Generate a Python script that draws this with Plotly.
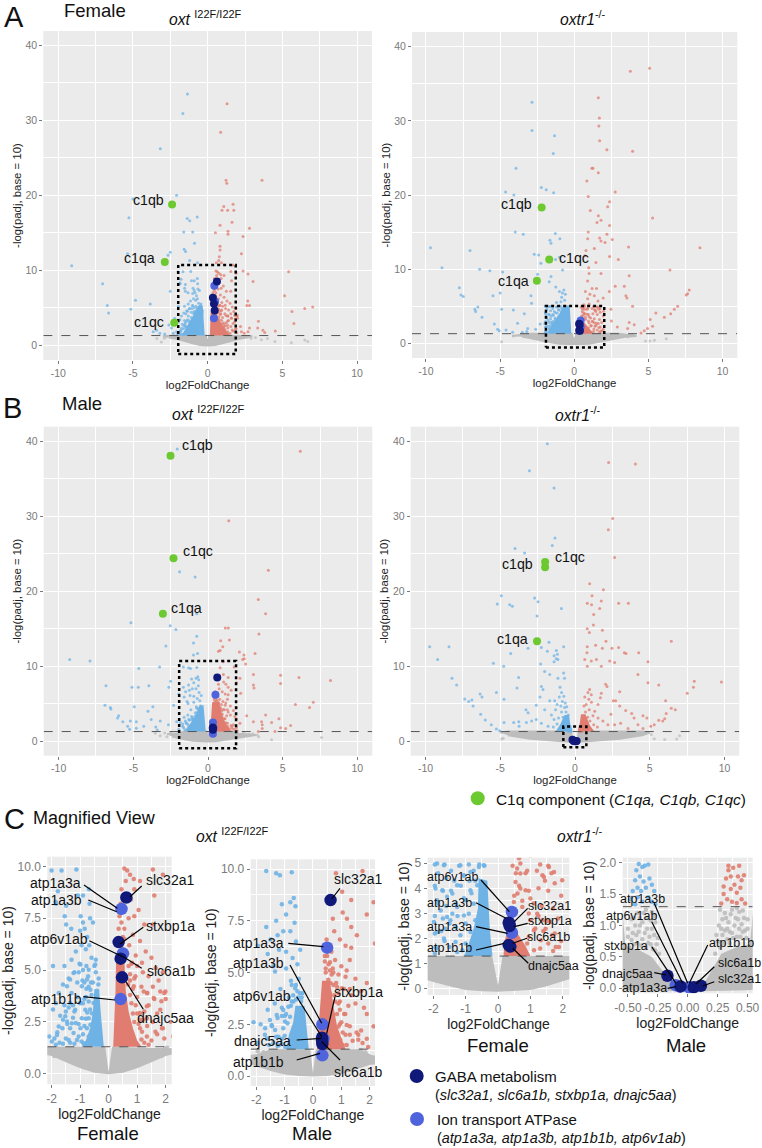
import plotly.graph_objects as go

W, H = 762, 1148
FONT = "Liberation Sans"

# ---------- read-off values: (log2FoldChange, -log10 padj) ----------
F_OXT_BLUE = [(-1.35,33.5),(-1.66,30.9),(-3.17,26.2),(-2.08,20),(-5.0,19.5),(-5.27,17),(-1.37,16.9),(-1.2,16.6),(-.7,17.1),(-1.6,15.1),(-1,15.1),(-.88,13.6),(-1.57,12.8),(-1.48,12.5),(-2.5,12.4),(-2.65,12),(-5.36,12.2),(-9.1,10.6),(-7.03,8.2),(-6.72,5.3),(-6.63,4.3),(-4.83,6),(-5.14,4.8),(-3.84,5.5),(-2.5,7.2),(-1.2,11.3),(-.68,11),(-1.86,8.3),(-3.64,1.8),(-3.42,2),(-3.2,1.6),(-2.87,1.5),(-2.42,2.3),(-2.3,1.6),(-2.08,1.8),(-2.6,2.7),(-2.2,3.6),(-1.65,9.8),(-1.13,9.85),(-2.0,9.8),(-.69,8.9),(-1.78,8.8),(-1.08,8.6),(-.9,8.6),(-1.84,8.2),(-1.49,8.1),(-.67,8.2),(-.98,7.6),(-1.54,7.6),(-.9,7.3),(-.84,7),(-1.49,7.2),(-1.31,7),(-1.0,6.9),(-.65,7.5),(-.55,7.3),(-.75,6.6),(-.68,6.2),(-.8,6.0),(-.95,6.2),(-1.15,5.9),(-1.3,5.5),(-1.55,5.2),(-1.95,5.2),(-.6,5.6),(-.5,5.2),(-.45,5.5),(-.78,5.2),(-.9,5.0),(-1.02,5.3),(-1.2,4.9),(-1.4,4.6),(-1.6,4.3),(-1.75,3.9),(-1.85,3.4),(-1.95,3.1),(-1.55,3.3),(-1.3,3.9),(-1.1,4.4),(-.92,4.5),(-.72,4.7),(-1.45,2.4),(-1.62,2.2),(-1.8,2.0),(-1.9,1.7),(-1.72,1.5),(-1.2,3.0),(-1.0,3.4),(-.78,4.1),(-.62,4.4),(-.36,4.3),(-.4,4.0),(-1.4,3.2),(-.85,3.6),(-1.7,2.8),
 (-1.99,1.55),(-1.75,2.28),(-1.81,1.87),(-1.46,2.52),(-1.52,2.77),(-1.35,2.2),(-1.4,1.63),(-1.23,1.96),(-1.29,2.44),(-1.11,1.63),(-.99,2.2),(-.94,2.68),(-1.17,3.09),(-.99,3.41),(-1.35,3.41),(-1.46,4.22),(-1.35,4.54),(-1.23,4.86),(-.99,5.27),(-.7,5.02),(-.47,5.27),(-.76,4.54),(-.94,4.22),(-.64,4.05),(-.7,3.49),(-.82,3.09),(-.7,2.68),(-.76,2.2),(-.7,1.8),(-.88,1.47),(-.59,2.92),(-.64,2.36),(-.53,3.41),(-.41,3.73),(-1.2,1.45),(-1.05,1.8),(-.95,1.55),(-.85,2.3),(-.9,1.9),(-1.05,2.4),(-1.25,2.7),(-1.15,2.45),(-.8,2.65),(-.75,2.95),(-.9,3.4),(-.8,3.7),(-1.1,3.7),(-1.25,3.3),(-1.5,3.0),(-1.6,2.6),(-1.35,1.5),(-1.5,1.7),(-1.6,1.45),(-1.85,1.4),(-.65,3.1),(-.6,3.8),(-.7,4.2),(-.55,4.4),(-.45,4.9),(-.35,4.6),(-.85,4.4),(-1.05,4.9)]
F_OXT_RED = [(1.3,32.2),(.87,28.4),(1.23,22),(1.28,21.6),(3.64,22),(1.7,18.8),(1.08,18.5),(.96,18),(1.34,18),(1.75,18),(1.63,16.4),(.83,16),(2.8,15.6),(1.36,15.2),(.52,15),(1.36,14.8),(2.37,14.5),(.83,13.2),(.83,12.7),(2.26,12.2),(.78,11.8),(.74,11.3),(.58,11),(.92,11),(1.7,10.7),(5.42,9.8),(3.04,8.5),(2.37,9.9),(2.7,9.5),(5.15,6.6),(5.64,4.5),(6.5,4.9),(7.03,5.1),(5.77,2.9),(2.68,5.9),(2.8,5.3),(2.62,5.3),(3.4,3.2),(3.35,2.3),(3.7,2),(3.82,1.7),(4.53,1.9),(2.8,2.3),(2.7,1.8),(2.26,1.8),(2.0,3.6),(.55,9.9),(.65,9.8),(.75,9.6),(.88,9.4),(1.55,9.85),(1.1,9.3),(1.9,9.6),(1.6,8.6),(.9,8.9),(.78,8.4),(.6,9.3),(.45,8.9),(.7,7.5),(.9,7.6),(1.05,7.9),(1.25,7.2),(1.55,7.2),(.55,7.0),(.45,7.3),(.5,6.6),(.85,6.7),(1.1,6.4),(1.3,5.9),(.72,6.2),(.95,5.7),(.65,5.8),(1.5,5.6),(1.65,5.1),(1.9,4.9),(1.75,4.5),(.8,5.3),(1.0,5.2),(1.2,4.9),(1.4,4.7),(1.55,4.2),(1.95,3.9),(1.85,3.5),(1.6,3.6),(1.35,3.9),(1.15,4.2),(.9,4.6),(.75,4.5),(1.4,3.3),(1.7,2.9),(1.25,3.0),(1.55,2.5),(1.9,2.2),(1.1,2.6),(1.35,2.3),(1.7,1.9),(1.95,1.7),(2.2,2.5),(2.45,1.6),(1.5,1.6),
 (1.23,3.97),(1.35,3.9),(1.81,3.97),(1.99,3.97),(1.58,3.65),(1.81,3.09),(1.34,3.25),(1.1,2.93),(1.34,2.68),(1.17,2.03),(1.34,1.8),(1.87,2.2),(1.64,2.03),(.82,5.35),(1.17,5.35),(.94,4.7),(.88,4.22),(.62,4.6),(.68,4.3),(.75,3.8),(.8,3.4),(.85,2.9),(.9,2.5),(1.0,2.9),(1.05,2.4),(1.15,1.65),(1.25,1.5),(1.4,1.4),(.95,3.3),(.7,5.2),(.6,5.7),(.5,6.0),(.42,6.2),(.4,5.7),(.55,6.5),(.38,7.6),(.42,8.2),(.35,7.0),(.75,4.8),(.85,4.1),(1.0,3.7),(1.1,2.2),(1.2,2.6)]
F_OXT_GREY = [(-3.1,.45),(-3.4,.9),(-2.9,.95),(3.2,1.05),(3.6,.75),(4.0,.9),(4.5,.5),(5.6,.35),(6.5,.7),(6.7,.5),(2.9,.95),(-2.75,1.15),(2.6,1.15),(-1.98,1.0),(-1.9,.85),(-1.8,1.2),(1.95,1.0),(1.85,.85),(1.98,1.2),(-2.05,1.2),(2.05,1.25)]
F_OXT_BLUE_FILL = [(-.17,1.3),(-.22,2),(-.28,3),(-.33,4),(-.5,4.1),(-.55,3),(-.65,2.2),(-.8,1.6),(-.95,1.3)]
F_OXT_RED_FILL = [(.16,1.3),(.2,2.5),(.24,4),(.26,5.5),(.55,5.5),(.6,4),(.7,3),(.85,2.2),(1.0,1.6),(1.15,1.3)]
F_OXT_BLUE_WIDE = [(-.2,1.3),(-.33,5.3),(-.6,5.3),(-.95,4),(-1.3,2.8),(-1.75,1.3)]
F_OXT_RED_WIDE = [(.15,1.3),(.2,4.5),(.55,4.5),(.8,3.3),(1.2,2),(1.5,1.3)]
F_OXT_GREY_FILL = [(-3,1.2),(-2.2,1.3),(-.12,1.3),(0,.1),(.12,1.3),(2.2,1.3),(3,1.2),(2.6,1.05),(2,.85),(1.5,.55),(1,.26),(.5,.05),(0,-.02),(-.5,.05),(-1,.26),(-1.5,.55),(-2,.85),(-2.6,1.05)]

M_OXT_BLUE = [(-2.06,39),(-1.9,22.6),(-.86,21.9),(-.75,17),(-5.16,15.8),(-2.53,15.4),(-2.15,14.9),(-.75,14),(-2.82,12.7),(-.97,13.1),(-.7,11.7),(-.97,11.5),(-9.26,10.9),(-7.9,10.7),(-3.24,9.9),(-4.63,9.7),(-6.83,7.4),(-5.09,7.2),(-4.67,7.2),(-3.96,7.4),(-2.5,8),(-2.62,7.2),(-6.9,4.8),(-6.54,4.5),(-6.5,4.3),(-4.94,4.6),(-3.69,4.6),(-4.02,4),(-5.98,3.4),(-6.05,3.1),(-5.7,2.6),(-5.2,2.7),(-4.8,2.6),(-5.38,2),(-5.25,1.6),(-4.8,1.75),(-4.3,2),(-3.8,2.9),(-3.2,2.7),(-3.5,1.9),(-3.4,1.5),(-2.65,2.2),(-2.1,2.6),(-2.3,4.8),(-1.65,9.9),(-1.3,9.8),(-.75,9.85),(-1.17,9.7),(-.68,8.6),(-.8,8.4),(-.62,8.2),(-1.1,8.3),(-.95,7.8),(-1.3,7.5),(-1.65,7.2),(-.65,7.4),(-.8,7),(-1.05,7.0),(-1.25,6.8),(-.6,6.5),(-.45,6.1),(-1.5,6.6),(-1.95,6.3),(-1.6,5.9),(-1.2,6.1),(-.95,6),(-.72,5.7),(-.55,5.4),(-1.4,5.3),(-.95,5.2),(-.78,4.6),(-.6,4.4),(-.5,4.7),(-.38,4),(-.42,3.6),(-1.15,4.2),(-1.35,3.5),(-1.6,3.2),(-1.85,2.5),(-1.7,2),(-1.45,2.4),(-1.25,2.8),(-1.1,3.3),(-.85,3.8),(-.7,3.9),(-.52,3.8),(-1.95,1.6),(-1.55,1.5),(-1.3,1.9),(-1.0,2.9),(-.78,3.4),(-1.1,1.8),(-1.2,1.5),
 (-1.34,5.05),(-.75,4.4),(-.63,4.24),(-.46,4.0),(-.69,3.6),(-.87,3.35),(-1.05,3.19),(-1.28,2.95),(-1.52,2.71),(-1.46,2.47),(-1.69,2.31),(-1.34,2.23),(-1.05,2.31),(-1.22,1.9),(-1.63,1.82),(-.99,2.63),(-.81,2.87),(-1.1,2.9),(-.95,3.0),(-.9,2.55),(-1.0,1.95),(-1.1,1.55),(-.98,1.4),(-1.25,1.45),(-1.4,1.6),(-.75,3.6),(-.6,3.7),(-.55,4.1),(-.4,3.8)]
M_OXT_RED = [(6.18,38.7),(1.39,29.4),(4.04,22.8),(3.37,18.9),(3.86,17),(3.41,14.3),(1.16,15.1),(1.36,15.1),(.85,13.4),(1.43,13.5),(.99,12.6),(.81,12.1),(.7,12),(2.1,11.9),(2.41,11.5),(2.43,11),(3.15,11.7),(2.32,10.9),(2.52,10.3),(1.03,10.6),(.81,9.8),(1.03,8.9),(3.04,8.9),(4.86,8.8),(6.09,8.5),(8.2,8.1),(4.86,7.7),(3.04,7.5),(3.08,7.1),(2.14,8.4),(2.19,6.4),(7.05,5.2),(6.8,4.5),(5.85,4.9),(2.59,3.4),(3.86,3.5),(3.04,2.6),(3.59,2.6),(3.63,2.2),(3.63,1.7),(4.26,2.5),(4.75,3),(5.53,2.1),(5.2,1.7),(4.86,1.8),(4.48,1.3),(3.37,1.3),(2.14,2.4),(1.7,2.2),(1.9,3),(1.75,9.9),(1.35,8.5),(1.9,7.8),(1.2,7.6),(1.05,7.9),(.7,7.6),(1.35,7.2),(.75,7),(1.55,6.8),(.95,6.6),(1.15,6.3),(1.35,6.2),(.65,6.0),(.78,5.6),(1.0,5.3),(1.3,5.6),(.55,5.4),(.45,5),(.72,5),(.9,4.9),(1.15,4.8),(1.5,4.7),(1.9,4.5),(1.7,4.1),(1.35,3.9),(1.1,4.2),(.85,4.3),(.62,4.5),(.75,3.9),(.95,3.6),(1.25,3.4),(1.5,3.5),(1.8,3.3),(1.1,3.0),(1.3,2.4),(1.6,2.0),(.95,2.5),(1.15,2.0),(1.4,1.7),(1.75,1.6),(1.95,1.4),(.8,1.7),(1.05,1.5),
 (.42,5.53),(.6,5.1),(.66,4.9),(.54,4.65),(.72,4.4),(.42,4.16),(.6,4),(.9,4),(1.02,4.24),(1.19,5.1),(1.3,4.2),(.9,3.5),(1.14,3.0),(.72,2.95),(.72,2.39),(.9,2.39),(1.19,2.47),(1.54,2.1),(1.6,1.75),(1.9,1.8),(1.3,2.0),(.96,1.75),(.84,1.5),(1.19,1.5),(.45,5.2),(.5,5.8),(.55,6.1),(.48,6.6),(.42,5.8),(.6,5.5),(.7,5.2),(.82,4.5),(.78,3.6),(.85,3.0),(.95,3.2),(1.0,2.6),(1.05,2.1)]
M_OXT_GREY = [(3.3,.85),(2.75,.95),(-3.2,.75),(-3.53,1.07),(-2.75,.6),(4.26,.2),(7.6,.5),(3.4,.6),(3.0,1.0),(-2.9,1.1),(-2.5,1.2),(2.4,1.2),(-1.9,.95),(-1.75,1.15),(-1.95,1.2),(1.85,1.15),(1.95,.95),(2.0,.75),(1.7,1.25)]
M_OXT_BLUE_FILL = [(-.15,1.3),(-.2,2),(-.27,3),(-.3,3.4),(-.62,3.4),(-.7,2.6),(-.85,2),(-.95,1.3)]
M_OXT_RED_FILL = [(.14,1.3),(.18,2),(.25,3.2),(.32,4.6),(.6,4.6),(.72,3.4),(.85,2.4),(1.0,1.8),(1.15,1.3)]
M_OXT_BLUE_WIDE = [(-.15,1.3),(-.3,4.8),(-.55,4.8),(-.85,3.3),(-1.25,2.2),(-1.5,1.3)]
M_OXT_RED_WIDE = [(.15,1.3),(.28,5.2),(.75,5.2),(.95,3.3),(1.3,2.0),(1.6,1.3)]
M_OXT_GREY_FILL = [(-2.75,.95),(-2.0,1.05),(-1.5,1.3),(-.1,1.3),(0,.15),(.1,1.3),(1.6,1.3),(2.1,1.0),(3.2,.85),(2.6,.65),(2,.53),(1.5,.3),(1,.1),(.5,0),(0,-.02),(-.5,0),(-1,.08),(-1.5,.25),(-2,.5),(-2.4,.65)]

F_OXTR_BLUE = [(-2.85,32.5),(-2.85,28.7),(-1.33,28),(-1.42,25.6),(-3.93,23.6),(-4.63,20.4),(-4.07,20),(-2.22,21),(-1.89,20.7),(-1.39,20.3),(-3.98,15),(-3.44,14.7),(-1.28,14.8),(-1.64,13.9),(-.97,14.1),(-1.57,13.5),(-9.69,12.9),(-7.03,12.5),(-8.92,10.2),(-6.38,10),(-5.69,9.8),(-4.83,9.6),(-7.75,7.5),(-7.64,6.5),(-7.48,6.3),(-6.5,4.9),(-6.7,4.6),(-6.65,4.3),(-6.22,3.5),(-5.48,6.4),(-5,6.8),(-4.9,4.6),(-4.11,4.5),(-3.37,4),(-5.39,2.6),(-5.17,1.9),(-5.06,1.7),(-4.16,1.5),(-3.82,2.7),(-3.14,2),(-2.7,12),(-2.4,11.9),(-2.25,10.8),(-2.47,9.3),(-2.92,6.4),(-2.88,5.4),(-1.26,11.3),(-1,11.6),(-1.57,9),(-1.69,8.3),(-.79,9.9),(-1.25,7.6),(-1,7),(-.8,6.8),(-.85,6.2),(-.7,7.2),(-.6,6.6),(-.9,5.6),(-.65,5.8),(-1.2,5.5),(-3.5,1.5),(-4.6,1.8),(-3.2,1.6),(-2.6,1.9),(-2.3,2.6),(-1.95,4.95),(-1.65,4.95),(-1.45,4.7),(-1.2,4.9),(-.9,4.95),(-.58,4.95),(-.42,4.9),(-1.85,4.6),(-1.6,4.4),(-1.35,4.3),(-1.05,4.5),(-.75,4.7),(-1.95,4.1),(-1.7,3.9),(-1.45,3.9),(-1.15,4.1),(-.88,4.3),(-.7,4.3),(-1.85,3.4),(-1.6,3.3),(-1.3,3.4),(-1.05,3.6),(-.82,3.8),(-1.95,2.9),(-1.7,2.8),(-1.5,2.6),(-1.25,2.9),(-1.95,2.2),(-1.75,2.3),(-1.9,1.6),(-1.65,1.9),(-1.95,1.4),
 (-1.88,4.99),(-1.67,4.92),(-1.16,4.92),(-.44,4.92),(-.59,4.85),(-.85,4.65),(-1.05,4.52),(-1.26,4.12),(-1.41,3.79),(-1.57,3.66),(-1.72,3.92),(-1.93,3.99),(-1.88,3.52),(-1.77,3.12),(-1.57,2.86),(-1.41,2.99),(-1.26,3.26),(-1.47,2.73),(-1.31,2.46),(-1.98,2.66),(-1.88,2.26),(-1.62,2.39),(-1.67,2.0),(-1.93,1.66),(-1.5,1.66),(-1.31,1.86),(-1.16,2.13),(-1.0,2.6),(-.9,2.99),(-1.0,3.52),(-.75,3.39),(-.85,3.92),(-.64,4.12),(-1.1,1.53),(-1.26,1.46),(-1.05,2.92),(-.7,2.73),(-.85,2.26),(-1,1.8)]
F_OXTR_RED = [(5.08,37.1),(3.78,36.7),(1.62,33.1),(1.69,30.4),(1.66,29.3),(1.71,27.3),(2.2,26.1),(3.93,25.9),(1.19,23.6),(1.26,23.6),(1.62,23),(.85,21.9),(2.76,20.4),(.94,19.8),(2.38,19.1),(2.25,18.4),(1.08,17.9),(1.62,17.2),(5.28,16.9),(1.8,16.6),(1.53,16.3),(2.38,15.9),(.94,15),(2.2,14.7),(2.56,14),(1.71,14.2),(.9,14.1),(1.8,13.8),(2.07,13.6),(3.66,13),(8.47,12.9),(1.35,12.8),(.79,12.5),(.72,11.8),(2.38,11.7),(2.97,11.3),(1.46,10.9),(.97,10.2),(6.45,9.9),(3.7,9.1),(1,9.4),(1.8,9.4),(.9,8.4),(3.37,7.7),(2.76,7.7),(2.36,7),(3.48,6.4),(3.55,6.1),(3.93,5),(2.47,4.6),(7.75,7.2),(7.64,6.7),(7.55,6.5),(6.97,5),(6.74,4.6),(6.5,4),(6.07,3.5),(5.5,4.1),(5.12,3.2),(5.28,2.3),(4.94,2),(4.72,1.7),(4.5,1.4),(3.7,2.8),(4.04,2.5),(3.6,2),(2.9,2.2),(2.5,3),(1.2,7.4),(1.5,7.4),(.75,7),(1.05,6.6),(1.35,6.4),(.9,6),(1.6,5.7),(1.95,6.1),(.65,5.2),(1.0,5.3),(1.3,4.95),(1.55,4.9),(1.2,4.7),(1.65,4.6),(.55,4.6),(.85,4.6),(.45,4.9),(1.45,4.3),(1.75,4.2),(.65,4.1),(.95,3.9),(1.25,4),(1.55,3.9),(1.95,3.7),(.75,3.5),(1.1,3.4),(1.35,3.3),(1.7,3.2),(.5,3.7),(.95,3),(1.25,2.9),(1.5,2.7),(1.85,2.8),(1.15,2.4),(1.4,2.3),(1.75,2.2),(1.95,1.9),(1.55,1.8),(1.3,1.6),(1.7,1.5),
 (.69,4.99),(.59,4.79),(.9,4.7),(.69,4.59),(1.37,4.52),(1.57,4.85),(1.73,4.65),(1.42,4.45),(1.98,4.32),(.54,4.25),(.69,3.99),(.85,3.92),(.6,3.79),(1.0,3.59),(.49,3.46),(.75,3.26),(1.21,2.99),(1.37,2.73),(1.62,2.66),(1.0,2.73),(1.11,2.33),(1.47,2.39),(1.78,1.66),(1.88,1.66),(1.67,2.13),(1.32,1.93),(.9,1.8),(1.11,1.53),(.95,2.06)]
F_OXTR_GREY = [(-4.9,.2),(-3.4,.9),(-3.1,1.2),(3.6,.9),(3.9,1.15),(4.8,.3),(5.1,.3),(5.4,.4),(6.2,.6),(-4.1,1.0),(3.3,1.1)]
F_OXTR_BLUE_FILL = [(-.17,1.3),(-.25,2.3),(-.33,4.3),(-.6,4.4),(-.62,3.2),(-.75,2.4),(-.95,1.6),(-1.05,1.3)]
F_OXTR_RED_FILL = [(.17,1.3),(.2,1.9),(.3,2.3),(.6,2.2),(.85,1.7),(1.0,1.3)]
F_OXTR_BLUE_WIDE = [(-.2,1.3),(-.3,4.8),(-.75,4.8),(-1.2,3.5),(-1.7,1.9),(-1.85,1.3)]
F_OXTR_RED_WIDE = [(.17,1.3),(.22,2.9),(.55,3.1),(1.0,2.0),(1.3,1.3)]
F_OXTR_GREY_FILL = [(-4.2,1.0),(-3.5,1.15),(-3,1.3),(-.18,1.3),(0,.13),(.14,1.3),(3,1.3),(3.5,1.15),(4.2,1.0),(3.5,.9),(3,.7),(2,.27),(1.5,.1),(1,-.05),(.5,-.1),(0,-.12),(-.5,-.1),(-1,-.05),(-1.5,.1),(-2,.27),(-3,.7),(-3.5,.9)]

M_OXTR_BLUE = [(-1.85,39.7),(-3.05,36.1),(-1.4,33.8),(-1.34,27.1),(-1.52,26.1),(-4.01,25.7),(-3.37,25.1),(-4.93,19.4),(-2.7,19.1),(-2.47,18.6),(-5.2,18.3),(-4.37,18.2),(-4.19,18),(-.91,17.7),(-2.54,16.7),(-9.72,12.6),(-8.43,12.6),(-9.19,10.9),(-8.23,8.4),(-7.92,7.5),(-7.38,5.65),(-7.11,5.3),(-6.9,5.5),(-6.82,4.7),(-6.35,6.3),(-6.22,5.9),(-6.31,3.6),(-6,2.85),(-5.6,2.2),(-5.26,1.65),(-5.04,1.4),(-5.46,10.4),(-4.77,10),(-5.26,6.5),(-4.75,5.6),(-4.3,11.7),(-3.77,8.5),(-3.88,7.1),(-4.75,2.5),(-4.1,2.5),(-3.76,2.6),(-3.74,2),(-3.28,4.2),(-3.14,3.8),(-3.14,12.4),(-2.25,12.5),(-1.74,13.2),(-.76,12.6),(-1.85,12),(-1.25,12.1),(-1.18,11.6),(-1.4,11.4),(-1.25,11),(-1.14,10.9),(-1.4,10.6),(-2.3,10.3),(-2.03,9.3),(-1.69,8.9),(-1.14,8.4),(-.76,9.1),(-.7,8.4),(-2.25,7.3),(-2.14,6.9),(-2.34,5.9),(-2.59,4.8),(-1.69,5.4),(-1.36,5.4),(-2.03,4.2),(-1.58,3.5),(-2.9,2.7),(-3.25,2.5),(-2.59,2.9),(-2.25,2.4),(-1.8,2),(-1.0,7.2),(-.9,6.5),(-.75,6),(-1.05,5.9),(-.85,5.3),(-.65,5.1),(-1.2,4.9),(-.95,4.7),(-.7,4.5),(-.55,4.6),(-1.3,4.2),(-.9,3.9),(-.6,3.9),(-.45,3.5),(-1.1,3.1),(-1.4,2.9),(-.8,3.2),(-1.2,2.3),(-1.45,1.9),(-.48,1.42),(-.46,1.55),(-.44,1.72),(-.43,1.88),(-.41,1.98),(-.38,1.93),(-.36,1.95),(-.4,1.78),(-.37,1.7),(-.33,1.97),(-.42,1.6),(-.39,1.55),(-.35,1.6),(-.32,1.75),(-.3,1.65),(-.28,1.55),(-.33,1.45),(-.38,1.38),(-.44,1.34),(-.3,1.38),(-.27,1.34),(-.42,1.45)]
M_OXTR_RED = [(2.25,37.2),(4.04,37),(2.52,29.7),(2.23,28.2),(2.65,24.5),(.98,21),(1.9,20.2),(1.14,19.4),(.82,18.4),(1.11,18.2),(1.76,18.7),(2.92,18.4),(3.57,18.4),(1.65,17.7),(1.25,16.9),(1.23,15.5),(.82,15),(.96,14.5),(1.83,14.8),(6.44,13.35),(2.07,13.35),(1.38,12.8),(1.83,12.4),(.82,12.6),(2.47,12.4),(2.92,12.5),(3.3,11.8),(3.41,11.7),(4.26,11.8),(.8,11.8),(4.88,10.6),(2.32,10.7),(2.65,10.5),(1.43,10.9),(1.09,10.7),(.65,10.9),(.82,10),(1.76,10),(4.21,8.9),(4.88,7.8),(5.6,7.5),(7.98,8),(7.92,7.2),(9.79,7.9),(7.51,6.4),(6.06,5.4),(6.44,4.4),(6.71,4.2),(2.99,6.6),(2.05,7.6),(2.14,7.3),(1.76,6.4),(1.7,5.8),(2.56,5.4),(2.72,5.4),(2.99,4.7),(3.39,4.1),(3.79,3.7),(3.95,3.1),(4.55,3.4),(4.81,3.1),(6.1,3.7),(6,3),(5.87,2.7),(5.6,2.8),(5.3,2.2),(5.07,2),(4.55,1.7),(4.21,2.2),(3.55,1.7),(2.65,2.2),(2.2,2.2),(1.87,2.7),(1.54,3.1),(1.32,4.0),(1.54,4.9),(1.09,6.2),(.98,6.9),(.87,6.5),(.65,5.9),(.92,5.6),(1.1,5.2),(.75,4.9),(.6,4.7),(.95,4.2),(.7,3.9),(1.2,3.4),(.85,3.2),(1.0,2.7),(1.25,2.2),(1.5,1.9),(2.4,3.6),(3.05,2.4),(.28,1.35),(.3,1.5),(.33,1.42),(.37,1.38),(.41,1.36),(.45,1.42),(.48,1.35),(.3,1.62),(.36,1.58),(.41,1.52),(.45,1.72),(.47,1.8),(.42,1.78),(.38,1.92),(.34,1.95),(.32,1.75),(.36,1.78),(.39,1.65),(.44,1.6),(.34,1.88),(.43,1.95)]
M_OXTR_GREY = [(-4.9,.3),(-4.8,.4),(5.1,.9),(5.3,.35),(6.0,.25),(6.8,.3),(7.0,.75),(-.5,.95),(-.47,1.1),(-.43,.85),(-.4,1.0),(-.37,1.2),(-.34,.95),(-.31,1.08),(-.28,.85),(-.26,.7),(-.38,.78),(-.45,.7),(-.33,.72),(-.24,.55),(-.3,1.22),(-.35,1.25),(-.42,1.2),(-.27,1.05),(-.5,.82),(-.41,.9),(.5,1.1),(.46,1.24),(.43,.95),(.4,1.12),(.37,1.25),(.34,1.05),(.31,1.2),(.28,.95),(.25,.75),(.27,1.25),(.37,.88),(.45,1.02),(.33,.78),(.23,.55),(.3,.72),(.41,1.28),(.29,.85),(.48,.92),
 (-.49,.65),(-.46,.88),(-.44,1.0),(-.42,.72),(-.39,.68),(-.36,.88),(-.35,.65),(-.32,.82),(-.3,.95),(-.29,.62),(-.27,.6),(-.25,.8),(-.47,.77),(-.4,1.12),(-.34,1.12),(-.28,1.15),(-.45,1.12),(-.38,1.05),(-.31,.7),(.27,.65),(.29,1.1),(.31,.92),(.33,.95),(.35,.72),(.36,1.18),(.39,1.0),(.41,.82),(.42,1.1),(.44,.82),(.46,.9),(.47,1.12),(.49,.8),(.5,.95),(.38,.8),(.35,.9),(.32,1.12),(.26,1.0),(.24,.85),(.28,.72),(.43,1.22)]
M_OXTR_BLUE_WIDE = [(-.25,1.3),(-.4,3.5),(-.7,3.5),(-1.0,2.2),(-1.3,1.3)]
M_OXTR_RED_WIDE = [(.25,1.3),(.4,3.6),(.7,3.6),(1.0,2.1),(1.3,1.3)]
M_OXTR_GREY_FILL = [(-5,1.15),(-4.5,1.3),(-.55,1.3),(-.52,.65),(-.4,.6),(-.3,.5),(-.24,.35),(-.15,.12),(-.08,.03),(0,.02),(.08,.03),(.15,.12),(.22,.35),(.28,.55),(.4,.65),(.52,.7),(.55,1.3),(4.5,1.3),(5,1.15),(4.5,.8),(3,.35),(2,.15),(1,.03),(.5,-.03),(0,-.05),(-.5,-.03),(-1,.03),(-2,.15),(-3,.35),(-4.5,.8)]

# highlighted genes
F_OXT_GREEN = [(-2.38,18.76),(-2.87,11.1),(-2.24,3.0)]
M_OXT_GREEN = [(-2.51,38.1),(-2.31,24.4),(-3.02,17.0)]
F_OXTR_GREEN = [(-2.2,18.3),(-1.69,11.3),(-2.52,8.45)]
M_OXTR_GREEN = [(-2.0,23.9),(-2.0,23.2),(-2.54,13.35)]
F_OXT_ION = [(.45,7.95),(.5,5.8),(.42,3.6)]
F_OXT_GABA = [(.62,8.5),(.35,6.35),(.42,5.55),(.47,4.65)]
M_OXT_ION = [(.5,6.2),(.33,2.5),(.37,1.8),(.33,1.0)]
M_OXT_GABA = [(.62,8.5),(.32,1.85),(.33,1.55),(.32,1.7)]
F_OXTR_ION = [(.43,3.06),(.43,2.23),(.36,2.6)]
F_OXTR_GABA = [(.33,2.63),(.36,2.5),(.33,1.74),(.38,1.68)]
M_OXTR_ION = [(-.1,.05),(-.07,.03),(.01,.015)]
M_OXTR_GABA = [(-.17,.2),(-.06,.03),(.05,.015),(.11,.04)]

PADJ_CUT = 1.3
YLAB = "-log(padj, base = 10)"
XLAB = "log2FoldChange"

BIG_X = (["-10","-5","0","5","10"], [-10,-5,0,5,10], 2.5)
BIG_Y = (["0","10","20","30","40"], [0,10,20,30,40], 5)
MAG_X = (["-2","-1","0","1","2"], [-2,-1,0,1,2], .5)
MAG_Y = (["0.0","2.5","5.0","7.5","10.0"], [0,2.5,5,7.5,10], 1.25)
C3_Y = (["0","1","2","3","4","5"], [0,1,2,3,4,5], .5)
C4_X = (["-0.50","-0.25","0.00","0.25","0.50"], [-.5,-.25,0,.25,.5], .125)
C4_Y = (["0.0","0.5","1.0","1.5","2.0"], [0,.5,1,1.5,2], .25)

DATA = {
 "FO": (F_OXT_BLUE,F_OXT_RED,F_OXT_GREY,F_OXT_GREY_FILL,F_OXT_GREEN,F_OXT_ION,F_OXT_GABA),
 "MO": (M_OXT_BLUE,M_OXT_RED,M_OXT_GREY,M_OXT_GREY_FILL,M_OXT_GREEN,M_OXT_ION,M_OXT_GABA),
 "FR": (F_OXTR_BLUE,F_OXTR_RED,F_OXTR_GREY,F_OXTR_GREY_FILL,F_OXTR_GREEN,F_OXTR_ION,F_OXTR_GABA),
 "MR": (M_OXTR_BLUE,M_OXTR_RED,M_OXTR_GREY,M_OXTR_GREY_FILL,M_OXTR_GREEN,M_OXTR_ION,M_OXTR_GABA),
}

PANELS = [
 dict(d="FO",px=(43.3,372,31,360),xr=(-11,11),yr=(-1.96,41.9),xt=BIG_X,yt=BIG_Y,box=(-1.97,1.88,-1.15,10.7),big=True,bf=F_OXT_BLUE_WIDE,rf=F_OXT_RED_WIDE),
 dict(d="FR",px=(412,737.3,32,358),xr=(-10.94,10.99),yr=(-1.98,41.98),xt=BIG_X,yt=BIG_Y,box=(-1.91,2.02,-.58,5.03),big=True,bf=F_OXTR_BLUE_WIDE,rf=F_OXTR_RED_WIDE),
 dict(d="MO",px=(43.7,372.3,426.7,755.7),xr=(-11,11),yr=(-1.92,41.96),xt=BIG_X,yt=BIG_Y,box=(-1.93,1.88,-.93,10.7),big=True,bf=M_OXT_BLUE_WIDE,rf=M_OXT_RED_WIDE),
 dict(d="MR",px=(410.7,739.3,426.7,755.7),xr=(-10.99,10.99),yr=(-1.92,41.96),xt=BIG_X,yt=BIG_Y,box=(-.78,.76,-.8,1.96),big=True,bf=M_OXTR_BLUE_WIDE,rf=M_OXTR_RED_WIDE),
 dict(d="FO",px=(47.3,171.7,856.7,1084.3),xr=(-2.15,2.21),yr=(-.51,10.47),xt=MAG_X,yt=MAG_Y,big=False,bf=F_OXT_BLUE_FILL,rf=F_OXT_RED_FILL),
 dict(d="MO",px=(250.7,375,859.3,1086),xr=(-2.2,2.19),yr=(-.48,10.47),xt=MAG_X,yt=MAG_Y,big=False,bf=M_OXT_BLUE_FILL,rf=M_OXT_RED_FILL),
 dict(d="FR",px=(427.7,569.3,857.7,995),xr=(-2.17,2.2),yr=(-.25,5.22),xt=MAG_X,yt=C3_Y,big=False,bf=F_OXTR_BLUE_FILL,rf=F_OXTR_RED_FILL),
 dict(d="MR",px=(622.7,752.7,857.7,993.3),xr=(-.544,.543),yr=(-.08,2.08),xt=C4_X,yt=C4_Y,big=False),
]

C_BLUE, C_RED, C_GREY = "#6FB3E6", "#E07D70", "#BDBDBD"
C_GREEN, C_ION, C_GABA = "#6CC92F", "#4F63DC", "#10197A"

fig = go.Figure()
def xs(p): return [a for a, _ in p]
def ys(p): return [b for _, b in p]

for i, P in enumerate(PANELS, 1):
    blue, red, grey, gf, green, ion, gaba = DATA[P["d"]]
    ax = dict(xaxis=f"x{i}", yaxis=f"y{i}", showlegend=False, hoverinfo="skip")
    dot = 3 if P["big"] else 4.5
    op = .75 if P["big"] else .9
    fig.add_trace(go.Scatter(x=xs(gf), y=ys(gf), mode="lines", fill="toself", fillcolor=C_GREY, line=dict(width=2 if P["big"] else 0, color=C_GREY), **ax))
    fig.add_trace(go.Scatter(x=xs(grey), y=ys(grey), mode="markers", marker=dict(size=dot, color=C_GREY, opacity=op), **ax))
    if "bf" in P:
        fig.add_trace(go.Scatter(x=xs(P["bf"]), y=ys(P["bf"]), mode="lines", fill="toself", fillcolor=C_BLUE, line=dict(width=0), **ax))
        fig.add_trace(go.Scatter(x=xs(P["rf"]), y=ys(P["rf"]), mode="lines", fill="toself", fillcolor=C_RED, line=dict(width=0), **ax))
    fig.add_trace(go.Scatter(x=xs(blue), y=ys(blue), mode="markers", marker=dict(size=dot, color=C_BLUE, opacity=op), **ax))
    fig.add_trace(go.Scatter(x=xs(red), y=ys(red), mode="markers", marker=dict(size=dot, color=C_RED, opacity=op), **ax))
    fig.add_trace(go.Scatter(x=list(P["xr"]), y=[PADJ_CUT, PADJ_CUT], mode="lines", line=dict(color="#555555", width=1, dash="dash"), **ax))
    if "box" in P:
        a, b, c, d = P["box"]
        fig.add_trace(go.Scatter(x=[a,b,b,a,a], y=[c,c,d,d,c], mode="lines", line=dict(color="black", width=2.5, dash="dot"), **ax))
    big = 8 if P["big"] else 12.5
    if P["big"]:
        fig.add_trace(go.Scatter(x=xs(green), y=ys(green), mode="markers", marker=dict(size=8, color=C_GREEN), **ax))
    fig.add_trace(go.Scatter(x=xs(ion), y=ys(ion), mode="markers", marker=dict(size=big, color=C_ION), **ax))
    fig.add_trace(go.Scatter(x=xs(gaba), y=ys(gaba), mode="markers", marker=dict(size=big, color=C_GABA), **ax))

    x0, x1, y0, y1 = P["px"]
    tsize = 10.5 if P["big"] else 12
    lab = 11.4 if P["big"] else 14
    tfont = dict(family=FONT, size=tsize, color="#7A7A7A")
    common = dict(showgrid=True, gridcolor="white", gridwidth=1, zeroline=False, showline=False, automargin=False,
                  ticks="outside", ticklen=3, tickwidth=1, tickcolor="#7A7A7A", tickfont=tfont, tickangle=0)
    fig.update_layout(**{
        f"xaxis{i}": dict(domain=[x0/W, x1/W], range=list(P["xr"]), anchor=f"y{i}", tickvals=P["xt"][1], ticktext=P["xt"][0],
                          minor=dict(dtick=P["xt"][2]*2, tick0=P["xt"][2], showgrid=True, gridcolor="white", gridwidth=.5, ticks=""),
                          title=dict(text=XLAB, standoff=0, font=dict(family=FONT, size=lab, color="#222222")), **common),
        f"yaxis{i}": dict(domain=[1-y1/H, 1-y0/H], range=list(P["yr"]), anchor=f"x{i}", tickvals=P["yt"][1], ticktext=P["yt"][0],
                          minor=dict(dtick=P["yt"][2]*2, tick0=P["yt"][2], showgrid=True, gridcolor="white", gridwidth=.5, ticks=""),
                          title=dict(text=YLAB, standoff=1, font=dict(family=FONT, size=lab, color="#222222")), **common),
    })

# ---------- text ----------
ann = []
def T(x, y, text, size, anchor="center", color="#111111"):
    ann.append(dict(x=x/W, y=1-y/H, xref="paper", yref="paper", text=text, showarrow=False,
                    xanchor=anchor, yanchor="middle", font=dict(family=FONT, size=size, color=color)))

OXT = "<i>oxt</i> <sup>I22F/I22F</sup>"
OXTR = "<i>oxtr1</i><sup>-/-</sup>"
for t, x, y in [("A",14,17),("B",12,408),("C",14,819)]:
    T(x, y, t, 29)
T(95, 11, "Female", 18.5); T(82, 403, "Male", 18.5); T(31, 818, "Magnified View", 18, "left")
for t, x, y in [(OXT,205,18),(OXTR,583,18),(OXT,209,413),(OXTR,578,414),(OXT,232,835),(OXTR,580,835)]:
    T(x, y, t, 15.7)
for t, x, y in [("Female",108,1133),("Male",312,1133),("Female",497.7,1045),("Male",686,1045)]:
    T(x, y, t, 18.5)

BIG_LABELS = [("c1qb",148,200),("c1qa",139,258),("c1qc",149,322),("c1qb",516,204),("c1qc",574,258),("c1qa",513,281),
              ("c1qb",197,445),("c1qc",198,551),("c1qa",186,608),("c1qc",570,557),("c1qb",517,564),("c1qa",512,639)]
for t, x, y in BIG_LABELS:
    T(x, y, t, 14.2)
MAG_LABELS = [("atp1a3a",55,883),("atp1a3b",56,900),("slc32a1",170,880),("stxbp1a",170,926),("atp6v1ab",59,939),("slc6a1b",171,971),("dnajc5aa",165,1018),("atp1b1b",56,999),
              ("atp1a3a",258,943),("slc32a1",358,879),("atp1a3b",258,963),("stxbp1a",358,992),("atp6v1ab",262,996),("dnajc5aa",262,1041),("atp1b1b",258,1062),("slc6a1b",358,1072)]
for t, x, y in MAG_LABELS:
    T(x, y, t, 14)
SMALL_LABELS = [("atp6v1ab",452.7,877),("atp1a3b",449,903),("atp1a3a",449,927),("atp1b1b",449,948),("slc32a1",549,906),("stxbp1a",550,921),("slc6a1b",548,937),("dnajc5aa",553,966),
                ("atp1a3b",642,899),("atp6v1ab",631,916),("stxbp1a",626,946),("dnajc5aa",627,974),("atp1a3a",644,988),("atp1b1b",731,943),("slc6a1b",739,963),("slc32a1",739,979)]
for t, x, y in SMALL_LABELS:
    T(x, y, t, 12.5)

T(494, 799, "C1q component (<i>C1qa, C1qb, C1qc</i>)", 15.4, "left")
T(432.7, 1076, "GABA metabolism", 15, "left")
T(433, 1095, "(<i>slc32a1, slc6a1b, stxbp1a, dnajc5aa</i>)", 14.4, "left")
T(435, 1119, "Ion transport ATPase", 15, "left")
T(435, 1138, "(<i>atp1a3a, atp1a3b, atp1b1b, atp6v1ab</i>)", 14.4, "left")

# ---------- leader lines and legend dots ----------
LEADERS = [(84,885,117.3,908.3),(88.3,900,116.7,911.7),(141.7,886,130,896.7),(143.3,927.3,120,944),(89.3,940.7,122.7,956.7),(141.7,968.3,123.3,956.7),(143.3,1009.3,126,981.7),(83.3,996.7,115,1000),
           (340,888.3,331.7,899),(288.3,943.3,323.3,946.7),(290,965,321.7,1023.3),(335,996.7,326.7,1033.3),(296.7,996.7,321.7,1036.7),(296.7,1040,321.7,1038.3),(296.7,1060,320,1053.3),(340,1060,321.7,1041.7),
           (481,880,509.3,911.7),(476,902.7,506,918.3),(476,926.7,507.7,933.3),(476,950,504.3,943.3),(527.7,908.3,514.3,921.7),(527.7,923.3,514.3,926.7),(527,938.3,512.7,943.3),(528.3,963.3,512.7,948.3),
           (654.3,903.3,687.7,983.3),(651.7,921.7,682.7,983.3),(651.7,946.7,676,983.3),(654.3,972.7,666,975),(667.7,988.3,676,986.7),(707.7,945,689.3,983.3),(714.3,966.7,696,984),(714.3,981.7,702.7,986)]
shapes = [dict(type="line", xref="paper", yref="paper", x0=a/W, y0=1-b/H, x1=c/W, y1=1-d/H, line=dict(color="black", width=1.2)) for a,b,c,d in LEADERS]
for cx, cy, col in [(477.7,798.3,C_GREEN),(416.7,1076,C_GABA),(417,1119,C_ION)]:
    shapes.append(dict(type="circle", xref="paper", yref="paper", x0=(cx-7)/W, x1=(cx+7)/W, y0=1-(cy+7)/H, y1=1-(cy-7)/H, fillcolor=col, line=dict(width=0)))

fig.update_layout(width=W, height=H, autosize=False, margin=dict(l=0, r=0, t=0, b=0), plot_bgcolor="#EBEBEB", paper_bgcolor="white",
                  showlegend=False, annotations=ann, shapes=shapes, font=dict(family=FONT))

fig.write_html("out.html", config={"displayModeBar": False}, post_script="document.body.style.margin='0';")
